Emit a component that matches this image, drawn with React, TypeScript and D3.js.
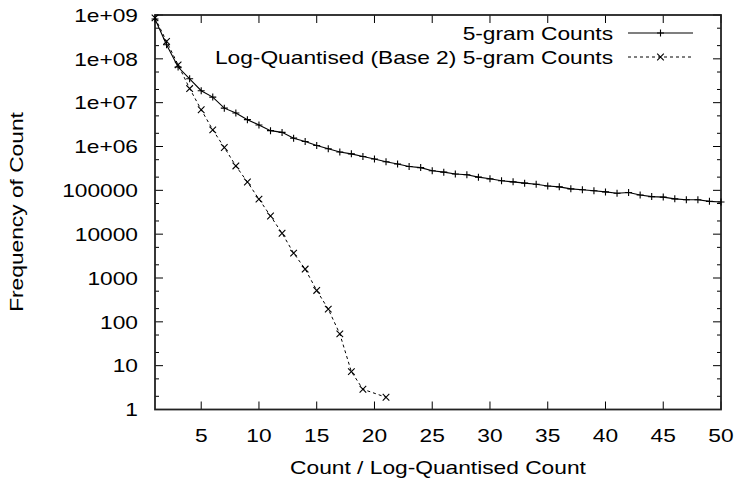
import React, { useRef, useEffect } from "react";
import * as d3 from "d3";

// x = count, y = how many 5-grams have that count
const counts = [
  1, 2, 3, 4, 5, 6, 7, 8, 9, 10, 11, 12, 13, 14, 15, 16, 17, 18, 19, 20, 21, 22, 23, 24, 25,
  26, 27, 28, 29, 30, 31, 32, 33, 34, 35, 36, 37, 38, 39, 40, 41, 42, 43, 44, 45, 46, 47, 48, 49, 50,
];
const ngramFreq = [
  8.1e8, 2.1e8, 6.5e7, 3.5e7, 1.87e7, 1.34e7, 7.5e6, 5.8e6, 4.1e6, 3.1e6,
  2.3e6, 2.1e6, 1.55e6, 1.3e6, 1.05e6, 8.9e5, 7.5e5, 6.8e5, 5.9e5, 5.2e5,
  4.5e5, 4.0e5, 3.5e5, 3.3e5, 2.8e5, 2.6e5, 2.35e5, 2.26e5, 2.0e5, 1.83e5,
  1.65e5, 1.56e5, 1.46e5, 1.38e5, 1.26e5, 1.2e5, 1.08e5, 1.03e5, 9.8e4, 9.2e4,
  8.6e4, 8.9e4, 7.8e4, 7.2e4, 7.0e4, 6.4e4, 6.1e4, 6.1e4, 5.6e4, 5.4e4,
];

// log-quantised counts (no point at 20)
const quantCounts = [1, 2, 3, 4, 5, 6, 7, 8, 9, 10, 11, 12, 13, 14, 15, 16, 17, 18, 19, 21];
const quantFreq = [
  8.6e8, 2.5e8, 7.3e7, 2.1e7, 6.9e6, 2.4e6, 9.5e5, 3.6e5, 1.55e5, 6.3e4,
  2.6e4, 1.05e4, 3700, 1600, 520, 195, 53, 7.3, 2.9, 1.9,
];

const seriesNames = ["5-gram Counts", "Log-Quantised (Base 2) 5-gram Counts"];

const xTicks = [5, 10, 15, 20, 25, 30, 35, 40, 45, 50];
const yTicks = [1, 10, 100, 1000, 10000, 100000, 1e6, 1e7, 1e8, 1e9];
const yTickLabels = ["1", "10", "100", "1000", "10000", "100000", "1e+06", "1e+07", "1e+08", "1e+09"];

const FONT = "'Liberation Sans', Arial, Helvetica, sans-serif";
const FS = 18.5;
const WIDE = 1.23; // gnuplot font is wider than it is tall here

type Point = [number, number];

const App: React.FC = () => {
  const svgRef = useRef<SVGSVGElement>(null);

  useEffect(() => {
    const W = 739, H = 482;
    const left = 155, right = 721, top = 15, bottom = 409.5;

    const svg = d3.select(svgRef.current);
    svg.selectAll("*").remove();

    svg.append("rect").attr("width", W).attr("height", H).attr("fill", "#fff");

    const x = d3.scaleLinear().domain([1, 50]).range([left, right]);
    const y = d3.scaleLog().domain([1, 1e9]).range([bottom, top]);

    const ink = "#000";

    const label = (tx: number, ty: number, txt: string, anchor: string, rot = 0) =>
      svg.append("text")
        .attr("transform", `translate(${tx},${ty}) rotate(${rot}) scale(${WIDE},1)`)
        .attr("text-anchor", anchor)
        .attr("dominant-baseline", "central")
        .attr("font-family", FONT)
        .attr("font-size", FS)
        .attr("fill", ink)
        .text(txt);

    // ticks (inward, mirrored on all sides)
    const tickG = svg.append("g").attr("stroke", ink).attr("stroke-width", 1);
    const majorLen = 8, minorLen = 4;

    yTicks.forEach((v, i) => {
      const py = y(v);
      tickG.append("line").attr("x1", left).attr("x2", left + majorLen).attr("y1", py).attr("y2", py);
      tickG.append("line").attr("x1", right).attr("x2", right - majorLen).attr("y1", py).attr("y2", py);
      label(138, py, yTickLabels[i], "end");
      if (v < 1e9) {
        [2, 5].forEach((m) => {
          const my = y(v * m);
          tickG.append("line").attr("x1", left).attr("x2", left + minorLen).attr("y1", my).attr("y2", my);
          tickG.append("line").attr("x1", right).attr("x2", right - minorLen).attr("y1", my).attr("y2", my);
        });
      }
    });

    xTicks.forEach((v) => {
      const px = x(v);
      tickG.append("line").attr("x1", px).attr("x2", px).attr("y1", bottom).attr("y2", bottom - majorLen);
      tickG.append("line").attr("x1", px).attr("x2", px).attr("y1", top).attr("y2", top + majorLen);
      label(px, 435, String(v), "middle");
    });

    // frame
    svg.append("rect")
      .attr("x", left).attr("y", top)
      .attr("width", right - left).attr("height", bottom - top)
      .attr("fill", "none").attr("stroke", "#222").attr("stroke-width", 1.8);

    // axis titles
    label(438, 467, "Count / Log-Quantised Count", "middle");
    label(16, 212, "Frequency of Count", "middle", -90);

    const line = d3.line<Point>().x((d) => x(d[0])).y((d) => y(d[1]));

    const plus = (g: d3.Selection<SVGGElement, unknown, null, undefined>, px: number, py: number) => {
      const r = 3.5;
      g.append("path").attr("d", `M${px - r},${py}H${px + r}M${px},${py - r}V${py + r}`);
    };
    const cross = (g: d3.Selection<SVGGElement, unknown, null, undefined>, px: number, py: number) => {
      const r = 3.3;
      g.append("path").attr("d", `M${px - r},${py - r}L${px + r},${py + r}M${px - r},${py + r}L${px + r},${py - r}`);
    };

    // series 1: solid with +
    const s1: Point[] = counts.map((c, i) => [c, ngramFreq[i]]);
    svg.append("path").datum(s1)
      .attr("fill", "none").attr("stroke", ink).attr("stroke-width", 1.1)
      .attr("d", line);
    const m1 = svg.append("g").attr("stroke", ink).attr("stroke-width", 1.1).attr("fill", "none");
    s1.forEach((d) => plus(m1, x(d[0]), y(d[1])));

    // series 2: dashed with x
    const s2: Point[] = quantCounts.map((c, i) => [c, quantFreq[i]]);
    svg.append("path").datum(s2)
      .attr("fill", "none").attr("stroke", ink).attr("stroke-width", 1)
      .attr("stroke-dasharray", "3,3")
      .attr("d", line);
    const m2 = svg.append("g").attr("stroke", ink).attr("stroke-width", 1.1).attr("fill", "none");
    s2.forEach((d) => cross(m2, x(d[0]), y(d[1])));

    // legend
    const legX1 = 628, legX2 = 693, legTextEnd = 613;
    const rows = [33, 57];
    label(legTextEnd, rows[0], seriesNames[0], "end");
    svg.append("line").attr("x1", legX1).attr("x2", legX2).attr("y1", rows[0]).attr("y2", rows[0])
      .attr("stroke", ink).attr("stroke-width", 1.1);
    plus(m1, (legX1 + legX2) / 2, rows[0]);

    label(legTextEnd, rows[1], seriesNames[1], "end");
    svg.append("line").attr("x1", legX1).attr("x2", legX2).attr("y1", rows[1]).attr("y2", rows[1])
      .attr("stroke", ink).attr("stroke-width", 1).attr("stroke-dasharray", "3,3");
    cross(m2, (legX1 + legX2) / 2, rows[1]);
  }, []);

  return (
    <svg
      ref={svgRef}
      width={739}
      height={482}
      style={{ position: "absolute", left: 0, top: 0, display: "block" }}
    ></svg>
  );
};

export default App;
